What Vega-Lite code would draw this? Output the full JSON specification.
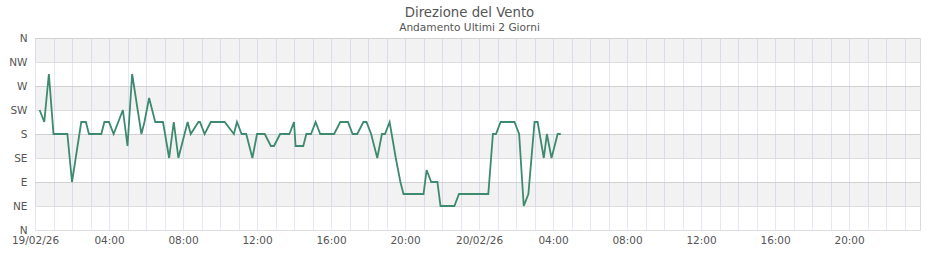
{
  "$schema": "https://vega.github.io/schema/vega-lite/v6.json",
  "autosize": {"type": "none"},
  "padding": {"left": 35, "top": 38, "right": 20, "bottom": 30},
  "width": 885,
  "height": 192,
  "background": "white",
  "config": {
    "font": "DejaVu Sans",
    "view": {"stroke": "#d9d9d9", "strokeWidth": 1},
    "axisY": {"labelOverlap": false}
  },
  "title": {
    "text": "Direzione del Vento",
    "subtitle": "Andamento Ultimi 2 Giorni",
    "anchor": "middle",
    "dx": -8,
    "offset": -1,
    "font": "DejaVu Sans",
    "fontSize": 13.3,
    "fontWeight": "normal",
    "color": "#555555",
    "subtitleFont": "DejaVu Sans",
    "subtitleFontSize": 10.6,
    "subtitleColor": "#555555",
    "subtitlePadding": 4
  },
  "datasets": {
    "bands": [
      {"lo": 45, "hi": 90},
      {"lo": 135, "hi": 180},
      {"lo": 225, "hi": 270},
      {"lo": 315, "hi": 360}
    ],
    "wind": [
      {"t": "2026-02-19T00:15:00", "dir": 225},
      {"t": "2026-02-19T00:30:00", "dir": 202.5},
      {"t": "2026-02-19T00:45:00", "dir": 292.5},
      {"t": "2026-02-19T01:00:00", "dir": 180},
      {"t": "2026-02-19T01:45:00", "dir": 180},
      {"t": "2026-02-19T02:00:00", "dir": 90},
      {"t": "2026-02-19T02:30:00", "dir": 202.5},
      {"t": "2026-02-19T02:45:00", "dir": 202.5},
      {"t": "2026-02-19T02:55:00", "dir": 180},
      {"t": "2026-02-19T03:35:00", "dir": 180},
      {"t": "2026-02-19T03:45:00", "dir": 202.5},
      {"t": "2026-02-19T04:00:00", "dir": 202.5},
      {"t": "2026-02-19T04:15:00", "dir": 180},
      {"t": "2026-02-19T04:45:00", "dir": 225},
      {"t": "2026-02-19T05:00:00", "dir": 157.5},
      {"t": "2026-02-19T05:15:00", "dir": 292.5},
      {"t": "2026-02-19T05:45:00", "dir": 180},
      {"t": "2026-02-19T05:55:00", "dir": 202.5},
      {"t": "2026-02-19T06:10:00", "dir": 247.5},
      {"t": "2026-02-19T06:30:00", "dir": 202.5},
      {"t": "2026-02-19T06:55:00", "dir": 202.5},
      {"t": "2026-02-19T07:15:00", "dir": 135},
      {"t": "2026-02-19T07:30:00", "dir": 202.5},
      {"t": "2026-02-19T07:45:00", "dir": 135},
      {"t": "2026-02-19T08:15:00", "dir": 202.5},
      {"t": "2026-02-19T08:25:00", "dir": 180},
      {"t": "2026-02-19T08:50:00", "dir": 202.5},
      {"t": "2026-02-19T08:55:00", "dir": 202.5},
      {"t": "2026-02-19T09:10:00", "dir": 180},
      {"t": "2026-02-19T09:30:00", "dir": 202.5},
      {"t": "2026-02-19T10:15:00", "dir": 202.5},
      {"t": "2026-02-19T10:45:00", "dir": 180},
      {"t": "2026-02-19T10:55:00", "dir": 202.5},
      {"t": "2026-02-19T11:10:00", "dir": 180},
      {"t": "2026-02-19T11:25:00", "dir": 180},
      {"t": "2026-02-19T11:45:00", "dir": 135},
      {"t": "2026-02-19T12:00:00", "dir": 180},
      {"t": "2026-02-19T12:25:00", "dir": 180},
      {"t": "2026-02-19T12:45:00", "dir": 157.5},
      {"t": "2026-02-19T12:55:00", "dir": 157.5},
      {"t": "2026-02-19T13:15:00", "dir": 180},
      {"t": "2026-02-19T13:45:00", "dir": 180},
      {"t": "2026-02-19T14:00:00", "dir": 202.5},
      {"t": "2026-02-19T14:05:00", "dir": 157.5},
      {"t": "2026-02-19T14:30:00", "dir": 157.5},
      {"t": "2026-02-19T14:40:00", "dir": 180},
      {"t": "2026-02-19T14:55:00", "dir": 180},
      {"t": "2026-02-19T15:10:00", "dir": 202.5},
      {"t": "2026-02-19T15:25:00", "dir": 180},
      {"t": "2026-02-19T16:10:00", "dir": 180},
      {"t": "2026-02-19T16:30:00", "dir": 202.5},
      {"t": "2026-02-19T16:55:00", "dir": 202.5},
      {"t": "2026-02-19T17:10:00", "dir": 180},
      {"t": "2026-02-19T17:25:00", "dir": 180},
      {"t": "2026-02-19T17:45:00", "dir": 202.5},
      {"t": "2026-02-19T17:55:00", "dir": 202.5},
      {"t": "2026-02-19T18:10:00", "dir": 180},
      {"t": "2026-02-19T18:30:00", "dir": 135},
      {"t": "2026-02-19T18:45:00", "dir": 180},
      {"t": "2026-02-19T18:55:00", "dir": 180},
      {"t": "2026-02-19T19:10:00", "dir": 202.5},
      {"t": "2026-02-19T19:30:00", "dir": 135},
      {"t": "2026-02-19T19:45:00", "dir": 90},
      {"t": "2026-02-19T19:55:00", "dir": 67.5},
      {"t": "2026-02-19T21:00:00", "dir": 67.5},
      {"t": "2026-02-19T21:10:00", "dir": 112.5},
      {"t": "2026-02-19T21:25:00", "dir": 90},
      {"t": "2026-02-19T21:45:00", "dir": 90},
      {"t": "2026-02-19T21:55:00", "dir": 45},
      {"t": "2026-02-19T22:40:00", "dir": 45},
      {"t": "2026-02-19T22:55:00", "dir": 67.5},
      {"t": "2026-02-20T00:30:00", "dir": 67.5},
      {"t": "2026-02-20T00:45:00", "dir": 180},
      {"t": "2026-02-20T00:55:00", "dir": 180},
      {"t": "2026-02-20T01:10:00", "dir": 202.5},
      {"t": "2026-02-20T01:55:00", "dir": 202.5},
      {"t": "2026-02-20T02:10:00", "dir": 180},
      {"t": "2026-02-20T02:25:00", "dir": 45},
      {"t": "2026-02-20T02:40:00", "dir": 67.5},
      {"t": "2026-02-20T03:00:00", "dir": 202.5},
      {"t": "2026-02-20T03:10:00", "dir": 202.5},
      {"t": "2026-02-20T03:30:00", "dir": 135},
      {"t": "2026-02-20T03:40:00", "dir": 180},
      {"t": "2026-02-20T03:55:00", "dir": 135},
      {"t": "2026-02-20T04:15:00", "dir": 180},
      {"t": "2026-02-20T04:25:00", "dir": 180}
    ]
  },
  "layer": [
    {
      "data": {"name": "bands"},
      "mark": {"type": "rect", "fill": "#000000", "fillOpacity": 0.05},
      "encoding": {
        "y": {
          "field": "lo",
          "type": "quantitative",
          "title": null,
          "scale": {"domain": [0, 360], "nice": false},
          "axis": {
            "values": [0, 45, 90, 135, 180, 225, 270, 315, 360],
            "labelExpr": "['N','NE','E','SE','S','SW','W','NW','N'][round(datum.value / 45)]",
            "labelOverlap": false,
            "labelFont": "DejaVu Sans",
            "labelFontSize": 10.5,
            "labelColor": "#555555",
            "labelPadding": 8,
            "ticks": false,
            "domain": false,
            "grid": true,
            "gridColor": "#dddddd",
            "gridWidth": 1
          }
        },
        "y2": {"field": "hi"}
      }
    },
    {
      "data": {"name": "wind", "format": {"parse": {"t": "date"}}},
      "mark": {"type": "line", "color": "#3d8a6e", "strokeWidth": 1.8, "interpolate": "linear"},
      "encoding": {
        "x": {
          "field": "t",
          "type": "temporal",
          "title": null,
          "scale": {
            "domain": [
              {"year": 2026, "month": 2, "date": 19, "hours": 0, "minutes": 0},
              {"year": 2026, "month": 2, "date": 20, "hours": 23, "minutes": 50}
            ],
            "nice": false
          },
          "axis": {
            "tickCount": 48,
            "labelExpr": "hours(datum.value) == 0 ? timeFormat(datum.value, '%d/%m/%y') : (hours(datum.value) % 4 == 0 ? timeFormat(datum.value, '%H:%M') : '')",
            "labelOverlap": false,
            "labelFlush": false,
            "labelFont": "DejaVu Sans",
            "labelFontSize": 10.5,
            "labelColor": "#555555",
            "labelPadding": 5,
            "ticks": false,
            "domain": false,
            "grid": true,
            "gridColor": "#e6e6fa",
            "gridWidth": 1
          }
        },
        "y": {
          "field": "dir",
          "type": "quantitative",
          "title": null,
          "scale": {"domain": [0, 360], "nice": false},
          "axis": {
            "values": [0, 45, 90, 135, 180, 225, 270, 315, 360],
            "labelExpr": "['N','NE','E','SE','S','SW','W','NW','N'][round(datum.value / 45)]",
            "labelOverlap": false,
            "labelFont": "DejaVu Sans",
            "labelFontSize": 10.5,
            "labelColor": "#555555",
            "labelPadding": 8,
            "ticks": false,
            "domain": false,
            "grid": true,
            "gridColor": "#dddddd",
            "gridWidth": 1
          }
        }
      }
    }
  ]
}
